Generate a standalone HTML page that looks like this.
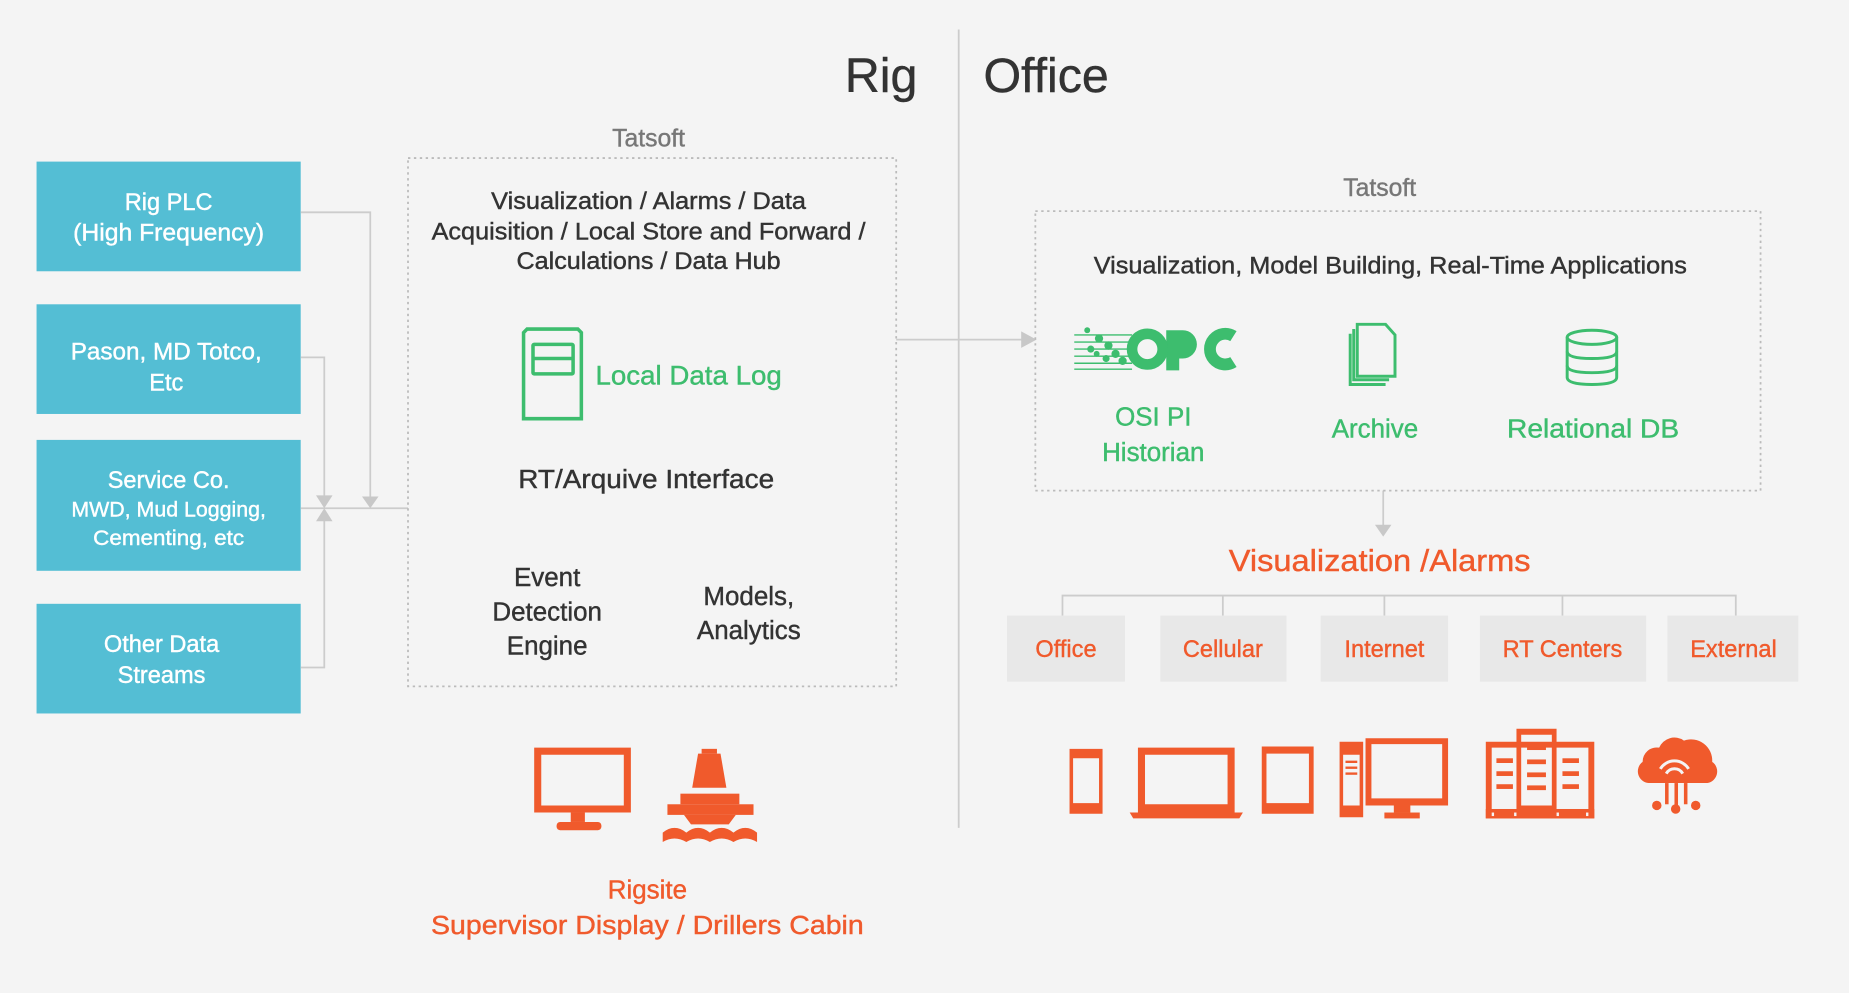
<!DOCTYPE html>
<html><head><meta charset="utf-8"><style>
html,body{margin:0;padding:0;background:#f4f4f4;width:1849px;height:993px;overflow:hidden}
svg{display:block}
text{font-family:"Liberation Sans",sans-serif;stroke-width:0.35px}
</style></head><body>
<svg width="1849" height="993" viewBox="0 0 1568 842" xmlns="http://www.w3.org/2000/svg">
<rect width="1568" height="842" fill="#f4f4f4"/>
<text x="778" y="78" font-size="41" fill="#333" stroke="#333" text-anchor="end">Rig</text>
<text x="834" y="78" font-size="41" fill="#333" stroke="#333">Office</text>
<line x1="813" y1="25" x2="813" y2="702" stroke="#ccc" stroke-width="1.5"/>

<g fill="#54bed4">
<rect x="31" y="137" width="224" height="93"/>
<rect x="31" y="258" width="224" height="93"/>
<rect x="31" y="373" width="224" height="111"/>
<rect x="31" y="512" width="224" height="93"/>
</g>
<g fill="#fff" stroke="#fff" font-size="20" text-anchor="middle">
<text x="143" y="178">Rig PLC</text>
<text x="143" y="204" textLength="162" lengthAdjust="spacingAndGlyphs">(High Frequency)</text>
<text x="141" y="305" textLength="162" lengthAdjust="spacingAndGlyphs">Pason, MD Totco,</text>
<text x="141" y="331">Etc</text>
<text x="143" y="414">Service Co.</text>
<text x="143" y="438" font-size="18" textLength="165" lengthAdjust="spacingAndGlyphs">MWD, Mud Logging,</text>
<text x="143" y="462" font-size="18" textLength="128" lengthAdjust="spacingAndGlyphs">Cementing, etc</text>
<text x="137" y="553">Other Data</text>
<text x="137" y="579">Streams</text>
</g>

<g stroke="#ccc" stroke-width="1.5" fill="none">
<polyline points="255,180 314,180 314,425"/>
<polyline points="255,303 275,303 275,425"/>
<polyline points="255,566 275,566 275,437"/>
<line x1="255" y1="431" x2="346" y2="431"/>
<line x1="760" y1="288" x2="870" y2="288"/>
<line x1="1173" y1="416" x2="1173" y2="446"/>
<polyline points="901,522 901,505 1472,505 1472,522"/>
<line x1="1037" y1="505" x2="1037" y2="522"/>
<line x1="1174" y1="505" x2="1174" y2="522"/>
<line x1="1325" y1="505" x2="1325" y2="522"/>
</g>
<g fill="#c8c8c8">
<polygon points="307,421 321,421 314,431"/>
<polygon points="268,420 282,420 275,431"/>
<polygon points="268,442 282,442 275,431"/>
<polygon points="866,281 866,295 879,288"/>
<polygon points="1166,445 1180,445 1173,455"/>
</g>

<text x="550" y="124" font-size="21" fill="#777" stroke="#777" text-anchor="middle">Tatsoft</text>
<rect x="346" y="134" width="414" height="448" fill="none" stroke="#bbb" stroke-width="1.5" stroke-dasharray="2,3"/>
<g font-size="20" fill="#333" stroke="#333" text-anchor="middle">
<text x="550" y="177" textLength="267" lengthAdjust="spacingAndGlyphs">Visualization / Alarms / Data</text>
<text x="550" y="203" textLength="368" lengthAdjust="spacingAndGlyphs">Acquisition / Local Store and Forward /</text>
<text x="550" y="228" textLength="224" lengthAdjust="spacingAndGlyphs">Calculations / Data Hub</text>
<text x="548" y="414" font-size="22" textLength="217" lengthAdjust="spacingAndGlyphs">RT/Arquive Interface</text>
<text x="464" y="497" font-size="22">Event</text>
<text x="464" y="526" font-size="22">Detection</text>
<text x="464" y="555" font-size="22">Engine</text>
<text x="635" y="513" font-size="22">Models,</text>
<text x="635" y="542" font-size="22">Analytics</text>
</g>
<g fill="none" stroke="#3dbd6e" stroke-width="3">
<path d="M444,282 L447,279 L490,279 L493,282 L493,355 L444,355 Z"/>
<rect x="452" y="292" width="34" height="25" rx="1"/>
<line x1="452" y1="304" x2="486" y2="304"/>
</g>
<text x="505" y="326" font-size="23" fill="#3dbd6e" stroke="#3dbd6e" textLength="158" lengthAdjust="spacingAndGlyphs">Local Data Log</text>

<g fill="#f05a2c">
<path d="M453,634 h82 v55 h-82 z M459,640 v43 h70 v-43 z" fill-rule="evenodd"/>
<rect x="484" y="689" width="12" height="8"/>
<rect x="472" y="697" width="38" height="7" rx="3"/>
<rect x="595" y="635" width="13" height="4"/>
<polygon points="592,639 611,639 616,668 587,668"/>
<rect x="577" y="673" width="50" height="9"/>
<rect x="566" y="682" width="73" height="9"/>
<path d="M580,691 h44 l-6,8 h-32 z"/>
<path d="M562,706 q10,-8 20,0 q10,-8 20,0 q10,-8 20,0 q10,-8 20,0 v8 q-10,-6 -20,0 q-10,-6 -20,0 q-10,-6 -20,0 q-10,-6 -20,0 z"/>
</g>
<text x="549" y="762" font-size="22" fill="#f05a2c" stroke="#f05a2c" text-anchor="middle">Rigsite</text>
<text x="549" y="792" font-size="22" fill="#f05a2c" stroke="#f05a2c" text-anchor="middle" textLength="367" lengthAdjust="spacingAndGlyphs">Supervisor Display / Drillers Cabin</text>

<text x="1170" y="166" font-size="21" fill="#777" stroke="#777" text-anchor="middle">Tatsoft</text>
<rect x="878" y="179" width="615" height="237" fill="none" stroke="#bbb" stroke-width="1.5" stroke-dasharray="2,3"/>
<text x="1179" y="232" font-size="20" fill="#333" stroke="#333" text-anchor="middle" textLength="503" lengthAdjust="spacingAndGlyphs">Visualization, Model Building, Real-Time Applications</text>
<g fill="#3dbd6e">
<g stroke="#3dbd6e" stroke-width="1.2">
<line x1="911" y1="284" x2="960" y2="284"/><line x1="911" y1="290" x2="960" y2="290"/>
<line x1="911" y1="296" x2="960" y2="296"/><line x1="911" y1="302" x2="960" y2="302"/>
<line x1="911" y1="308" x2="960" y2="308"/><line x1="911" y1="313" x2="960" y2="313"/>
</g>
<circle cx="922" cy="280" r="2.5"/><circle cx="932" cy="287" r="3.5"/><circle cx="940" cy="293" r="3.5"/><circle cx="946" cy="300" r="3.5"/>
<circle cx="925" cy="296" r="3"/><circle cx="952" cy="306" r="3.5"/><circle cx="938" cy="304" r="3"/><circle cx="930" cy="300" r="2.5"/>
<path d="M989,280 h14 a12,12 0 0 1 0,24 h-3 v10 h-11 z"/>
</g>
<circle cx="973" cy="296" r="13" fill="none" stroke="#3dbd6e" stroke-width="9"/>
<path d="M1046,285 a13,13 0 1 0 0,22" fill="none" stroke="#3dbd6e" stroke-width="10"/>
<text x="978" y="361" font-size="22" fill="#3dbd6e" stroke="#3dbd6e" text-anchor="middle">OSI PI</text>
<text x="978" y="391" font-size="22" fill="#3dbd6e" stroke="#3dbd6e" text-anchor="middle">Historian</text>
<g fill="none" stroke="#3dbd6e" stroke-width="2.5">
<path d="M1151,275 h24 l8,9 v35 h-32 z"/>
<path d="M1148,279 v43 h30"/>
<path d="M1145,283 v43 h30"/>
</g>
<text x="1166" y="371" font-size="22" fill="#3dbd6e" stroke="#3dbd6e" text-anchor="middle">Archive</text>
<g fill="none" stroke="#3dbd6e" stroke-width="2.5">
<ellipse cx="1350" cy="286" rx="21" ry="6"/>
<path d="M1329,286 v34 q0,6 21,6 q21,0 21,-6 v-34"/>
<path d="M1329,298 q0,6 21,6 q21,0 21,-6"/>
<path d="M1329,310 q0,6 21,6 q21,0 21,-6"/>
</g>
<text x="1351" y="371" font-size="22" fill="#3dbd6e" stroke="#3dbd6e" text-anchor="middle" textLength="146" lengthAdjust="spacingAndGlyphs">Relational DB</text>

<text x="1170" y="484" font-size="26" fill="#f05a2c" stroke="#f05a2c" text-anchor="middle" textLength="256" lengthAdjust="spacingAndGlyphs">Visualization /Alarms</text>
<g fill="#e8e8e8">
<rect x="854" y="522" width="100" height="56"/>
<rect x="984" y="522" width="107" height="56"/>
<rect x="1120" y="522" width="108" height="56"/>
<rect x="1255" y="522" width="141" height="56"/>
<rect x="1414" y="522" width="111" height="56"/>
</g>
<g font-size="20" fill="#f05a2c" stroke="#f05a2c" text-anchor="middle">
<text x="904" y="557">Office</text>
<text x="1037" y="557">Cellular</text>
<text x="1174" y="557">Internet</text>
<text x="1325" y="557">RT Centers</text>
<text x="1470" y="557">External</text>
</g>

<g fill="#f05a2c">
<path d="M907,635 h28 v55 h-28 z M910,643 v38 h22 v-38 z" fill-rule="evenodd" />
<path d="M965,634 h82 v57 h-82 z M971,640 v42 h70 v-42 z" fill-rule="evenodd"/>
<path d="M958,689 h96 l-3,5 h-90 z"/>
<path d="M1070,633 h44 v57 h-44 z M1074,639 v42 h36 v-42 z" fill-rule="evenodd"/>
<path d="M1136,629 h20 v64 h-20 z M1139,640 v43 h14 v-43 z" fill-rule="evenodd"/>
<path d="M1158,626 h70 v57 h-70 z M1163,631 v46 h60 v-46 z" fill-rule="evenodd"/>
<rect x="1182" y="683" width="14" height="6"/><rect x="1174" y="689" width="30" height="5"/>
<path d="M1260,629 h92 v65 h-92 z M1265,634 v52 h82 v-52 z" fill-rule="evenodd"/>
<path d="M1286,618 h34 v68 h-34 z M1290,623 v60 h26 v-60 z" fill-rule="evenodd"/>
<rect x="1260" y="686" width="92" height="8"/>
<path d="M1428,628 a18,18 0 0 1 24,18 a10,10 0 0 1 -4,18 h-50 a10,10 0 0 1 -5,-18 a12,12 0 0 1 14,-12 a14,14 0 0 1 21,-6 z"/>
<rect x="1412" y="664" width="3" height="18"/><rect x="1420" y="664" width="3" height="20"/><rect x="1428" y="664" width="3" height="18"/>
<circle cx="1405" cy="683" r="4"/><circle cx="1421" cy="686" r="4"/><circle cx="1438" cy="683" r="4"/>
<rect x="1269" y="643" width="14" height="4"/><rect x="1269" y="654" width="14" height="4"/><rect x="1269" y="665" width="14" height="4"/>
<rect x="1295" y="632" width="16" height="4"/><rect x="1295" y="644" width="16" height="4"/><rect x="1295" y="655" width="16" height="4"/><rect x="1295" y="666" width="16" height="4"/>
<rect x="1325" y="643" width="14" height="4"/><rect x="1325" y="654" width="14" height="4"/><rect x="1325" y="665" width="14" height="4"/>
<rect x="1141" y="645" width="10" height="2"/><rect x="1141" y="650" width="10" height="2"/><rect x="1141" y="655" width="10" height="2"/>
</g>
<g fill="#f4f4f4">
<rect x="1265" y="689" width="2" height="3"/><rect x="1284" y="689" width="2" height="3"/><rect x="1320" y="689" width="2" height="3"/><rect x="1345" y="689" width="2" height="3"/>
</g>
<g fill="none" stroke="#f4f4f4" stroke-width="2.5">
<path d="M1408,652 a14,14 0 0 1 24,0"/><path d="M1413,656 a8,8 0 0 1 14,0"/>
</g>
</svg>
</body></html>
